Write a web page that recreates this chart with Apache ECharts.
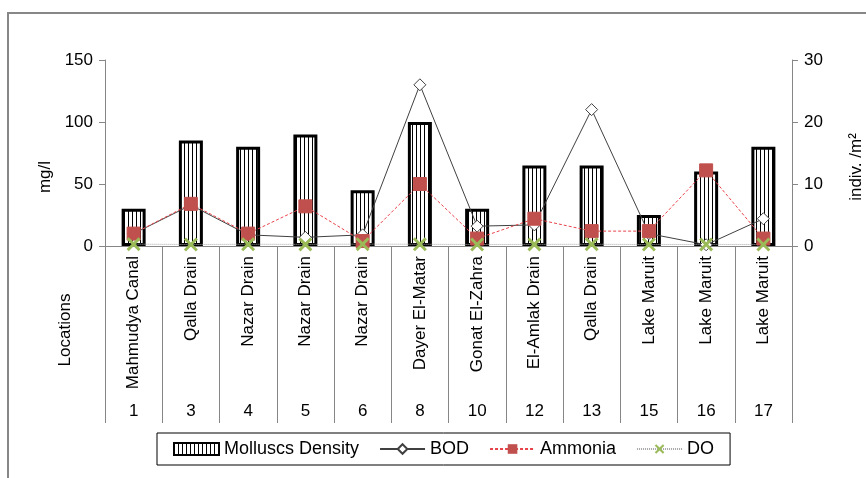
<!DOCTYPE html>
<html>
<head>
<meta charset="utf-8">
<script src="https://cdn.jsdelivr.net/npm/echarts@6/dist/echarts.min.js"></script>
<style>
  html, body { margin: 0; padding: 0; background: #fff; }
  #main { width: 866px; height: 478px; }
</style>
</head>
<body>
<div id="main"></div>
<script>
// locations (category axis, two levels)
let locations = ['Mahmudya Canal', 'Qalla Drain', 'Nazar Drain', 'Nazar Drain', 'Nazar Drain', 'Dayer El-Matar',
    'Gonat El-Zahra', 'El-Amlak Drain', 'Qalla Drain', 'Lake Maruit', 'Lake Maruit', 'Lake Maruit'];
let siteNumbers = ['1', '3', '4', '5', '6', '8', '10', '12', '13', '15', '16', '17'];
// indiv./m2 (right axis)
let molluscsDensity = [6, 17, 16, 18, 9, 20, 6, 13, 13, 5, 12, 16];
// mg/l (left axis)
let bod = [10, 33, 9, 7, 9, 130, 16, 17, 110, 10, 1, 22];
let ammonia = [10, 34, 10, 32, 4, 50, 6, 22, 12, 12, 61, 6];
let dissolvedO2 = [1.5, 1.2, 1.4, 1.3, 1.5, 1.4, 1.2, 1.3, 1.4, 1.2, 1.3, 1.2];

let leftTicks = [0, 50, 100, 150];
let rightTicks = [0, 10, 20, 30];

const FONT = 'Liberation Sans';
const AXIS_GREY = '#868686';

// vertical hatch for the bars
let hatch = document.createElement('canvas');
hatch.width = 4;
hatch.height = 4;
let ctx = hatch.getContext('2d');
ctx.fillStyle = '#fff';
ctx.fillRect(0, 0, 4, 4);
ctx.fillStyle = '#000';
ctx.fillRect(0, 0, 1, 4);

const X_SHAPE = 'path://M0,1.5L1.5,0L5,3.5L8.5,0L10,1.5L6.5,5L10,8.5L8.5,10L5,6.5L1.5,10L0,8.5L3.5,5Z';

option = {
    animation: false,
    textStyle: { fontFamily: FONT, color: '#000' },
    grid: { left: 105, right: 74, top: 60, bottom: 232, outerBoundsMode: 'none' },
    graphic: [
        {
            // outer chart frame
            type: 'rect',
            shape: { x: 8, y: 13, width: 900, height: 500 },
            style: { fill: 'none', stroke: '#878787', lineWidth: 2 },
            silent: true
        },
        {
            type: 'text',
            x: 65,
            y: 330,
            rotation: Math.PI / 2,
            style: { text: 'Locations', font: '17px ' + FONT, fill: '#000', textAlign: 'center', textVerticalAlign: 'middle' }
        }
    ],
    legend: {
        left: 157,
        top: 433,
        padding: [7, 16, 7, 16],
        borderColor: '#000',
        borderWidth: 1,
        itemGap: 20,
        itemWidth: 45,
        itemHeight: 12,
        textStyle: { fontFamily: FONT, fontSize: 18, color: '#000' },
        data: [
            { name: 'Molluscs Density', icon: 'rect' },
            'BOD', 'Ammonia', 'DO'
        ]
    },
    xAxis: [
        {
            type: 'category',
            data: locations,
            axisLine: { lineStyle: { color: AXIS_GREY, width: 1 } },
            axisTick: { show: true, interval: 0, length: 177, lineStyle: { color: AXIS_GREY } },
            axisLabel: { interval: 0, rotate: 90, margin: 10, fontSize: 17, color: '#000' }
        },
        {
            type: 'category',
            data: siteNumbers,
            position: 'bottom',
            offset: 155,
            axisLine: { show: false },
            axisTick: { show: false },
            axisLabel: { interval: 0, margin: 2, fontSize: 17, color: '#000' }
        }
    ],
    yAxis: [
        {
            type: 'value',
            min: leftTicks[0],
            max: leftTicks[leftTicks.length - 1],
            interval: 50,
            name: 'mg/l',
            nameLocation: 'middle',
            nameGap: 44,
            nameRotate: 90,
            nameTextStyle: { fontSize: 17, color: '#000', padding: [0, 48, 0, 0] },
            axisLine: { show: true, lineStyle: { color: AXIS_GREY } },
            axisTick: { show: true, length: 6, lineStyle: { color: AXIS_GREY } },
            axisLabel: { fontSize: 17, color: '#000', margin: 12 },
            splitLine: { show: false }
        },
        {
            type: 'value',
            min: rightTicks[0],
            max: rightTicks[rightTicks.length - 1],
            interval: 10,
            position: 'right',
            name: 'indiv. /m²',
            nameLocation: 'middle',
            nameGap: 56,
            nameRotate: 90,
            nameTextStyle: { fontSize: 17, color: '#000', padding: [0, 28, 0, 0] },
            axisLine: { show: true, lineStyle: { color: AXIS_GREY } },
            axisTick: { show: true, length: 6, lineStyle: { color: AXIS_GREY } },
            axisLabel: { fontSize: 17, color: '#000', margin: 12 },
            splitLine: { show: false }
        }
    ],
    series: [
        {
            name: 'Molluscs Density',
            type: 'bar',
            yAxisIndex: 1,
            barWidth: 24,
            data: molluscsDensity,
            itemStyle: {
                color: { image: hatch, repeat: 'repeat' },
                borderColor: '#000',
                borderWidth: 3
            }
        },
        {
            name: 'BOD',
            type: 'line',
            yAxisIndex: 0,
            data: bod,
            symbol: 'diamond',
            symbolSize: 12,
            lineStyle: { color: '#404040', width: 1 },
            itemStyle: { color: '#fff', borderColor: '#404040', borderWidth: 1 }
        },
        {
            name: 'Ammonia',
            type: 'line',
            yAxisIndex: 0,
            data: ammonia,
            symbol: 'rect',
            symbolSize: 13,
            lineStyle: { color: '#E8434A', width: 1, type: [3, 2] },
            itemStyle: { color: '#C0504D', borderColor: '#C0504D' }
        },
        {
            name: 'DO',
            type: 'line',
            yAxisIndex: 0,
            data: dissolvedO2,
            symbol: X_SHAPE,
            symbolSize: 14,
            lineStyle: { color: '#A6A6A6', width: 1, type: [1, 1] },
            itemStyle: { color: '#9BBB59' }
        }
    ]
};

let myChart = echarts.init(document.getElementById('main'));
myChart.setOption(option);
</script>
</body>
</html>
